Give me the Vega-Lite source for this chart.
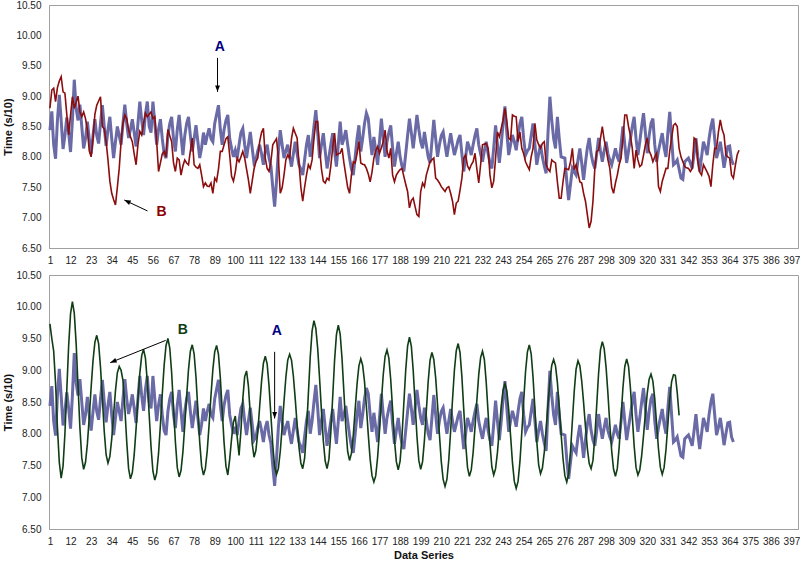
{
"$schema": "https://vega.github.io/schema/vega-lite/v6.json",
"background": "white",
"padding": {"left": 2, "top": -1, "right": 0, "bottom": 0},
"config": {
 "font": "Liberation Sans",
 "view": {"stroke": "#a0a0a0", "strokeWidth": 1},
 "axis": {"grid": false, "domainColor": "#a0a0a0", "ticks": false, "labelOverlap": false, "labelColor": "#222222", "labelFontSize": 10, "titleFontSize": 11, "titleFontWeight": "bold", "titleColor": "#111111"},
 "concat": {"spacing": 3}
},
"datasets": {
"A": [
{"x":1,"y":8.44},{"x":2,"y":8.75},{"x":3,"y":8.20},{"x":4,"y":7.97},{"x":5,"y":8.60},{"x":6,"y":9.02},{"x":7,"y":8.60},{"x":8,"y":8.13},{"x":9,"y":8.35},{"x":10,"y":8.65},
{"x":11,"y":8.40},{"x":12,"y":8.08},{"x":13,"y":8.60},{"x":14,"y":9.27},{"x":15,"y":8.80},{"x":16,"y":8.60},{"x":17,"y":8.86},{"x":18,"y":8.50},{"x":19,"y":8.14},{"x":20,"y":8.30},
{"x":21,"y":8.58},{"x":22,"y":8.30},{"x":23,"y":8.05},{"x":24,"y":8.35},{"x":25,"y":8.62},{"x":26,"y":8.35},{"x":27,"y":8.22},{"x":28,"y":8.55},{"x":29,"y":8.85},{"x":30,"y":8.50},
{"x":31,"y":8.18},{"x":32,"y":8.45},{"x":33,"y":8.66},{"x":34,"y":8.30},{"x":35,"y":7.98},{"x":36,"y":8.25},{"x":37,"y":8.50},{"x":38,"y":8.35},{"x":39,"y":8.20},{"x":40,"y":8.55},
{"x":41,"y":8.86},{"x":42,"y":8.55},{"x":43,"y":8.31},{"x":44,"y":8.45},{"x":45,"y":8.62},{"x":46,"y":8.40},{"x":47,"y":8.17},{"x":48,"y":8.55},{"x":49,"y":8.91},{"x":50,"y":8.60},
{"x":51,"y":8.36},{"x":52,"y":8.70},{"x":53,"y":8.91},{"x":54,"y":8.50},{"x":55,"y":8.40},{"x":56,"y":8.91},{"x":57,"y":8.55},{"x":58,"y":8.20},{"x":59,"y":8.45},{"x":60,"y":8.62},
{"x":61,"y":8.30},{"x":62,"y":8.05},{"x":63,"y":7.98},{"x":64,"y":8.35},{"x":65,"y":8.55},{"x":66,"y":8.66},{"x":67,"y":8.30},{"x":68,"y":8.09},{"x":69,"y":8.45},{"x":70,"y":8.69},
{"x":71,"y":8.35},{"x":72,"y":8.03},{"x":73,"y":8.35},{"x":74,"y":8.55},{"x":75,"y":8.66},{"x":76,"y":8.35},{"x":77,"y":8.09},{"x":78,"y":8.30},{"x":79,"y":8.52},{"x":80,"y":8.25},
{"x":81,"y":7.98},{"x":82,"y":8.15},{"x":83,"y":8.40},{"x":84,"y":8.20},{"x":85,"y":8.35},{"x":86,"y":8.47},{"x":87,"y":8.30},{"x":88,"y":8.25},{"x":89,"y":8.55},{"x":90,"y":8.70},
{"x":91,"y":8.85},{"x":92,"y":8.45},{"x":93,"y":8.20},{"x":94,"y":8.45},{"x":95,"y":8.60},{"x":96,"y":8.69},{"x":97,"y":8.30},{"x":98,"y":8.14},{"x":99,"y":8.00},{"x":100,"y":8.11},
{"x":101,"y":7.98},{"x":102,"y":8.20},{"x":103,"y":8.40},{"x":104,"y":8.47},{"x":105,"y":8.20},{"x":106,"y":7.98},{"x":107,"y":8.20},{"x":108,"y":8.41},{"x":109,"y":8.15},{"x":110,"y":7.90},
{"x":111,"y":7.95},{"x":112,"y":8.10},{"x":113,"y":8.20},{"x":114,"y":8.05},{"x":115,"y":7.87},{"x":116,"y":8.09},{"x":117,"y":8.20},{"x":118,"y":7.98},{"x":119,"y":7.85},{"x":120,"y":7.50},
{"x":121,"y":7.18},{"x":122,"y":7.60},{"x":123,"y":8.10},{"x":124,"y":8.44},{"x":125,"y":8.20},{"x":126,"y":7.98},{"x":127,"y":8.10},{"x":128,"y":8.20},{"x":129,"y":8.00},{"x":130,"y":7.84},
{"x":131,"y":8.05},{"x":132,"y":8.25},{"x":133,"y":8.05},{"x":134,"y":7.87},{"x":135,"y":7.80},{"x":136,"y":7.70},{"x":137,"y":7.95},{"x":138,"y":8.20},{"x":139,"y":8.36},{"x":140,"y":8.00},
{"x":141,"y":8.20},{"x":142,"y":8.50},{"x":143,"y":8.77},{"x":144,"y":8.40},{"x":145,"y":7.98},{"x":146,"y":8.20},{"x":147,"y":8.39},{"x":148,"y":8.10},{"x":149,"y":7.81},{"x":150,"y":8.00},
{"x":151,"y":8.20},{"x":152,"y":8.39},{"x":153,"y":8.10},{"x":154,"y":7.84},{"x":155,"y":8.20},{"x":156,"y":8.58},{"x":157,"y":8.20},{"x":158,"y":8.30},{"x":159,"y":8.44},{"x":160,"y":8.20},
{"x":161,"y":7.98},{"x":162,"y":7.80},{"x":163,"y":7.70},{"x":164,"y":8.00},{"x":165,"y":8.30},{"x":166,"y":8.52},{"x":167,"y":8.09},{"x":168,"y":8.30},{"x":169,"y":8.55},{"x":170,"y":8.72},
{"x":171,"y":8.63},{"x":172,"y":8.30},{"x":173,"y":8.03},{"x":174,"y":8.33},{"x":175,"y":8.10},{"x":176,"y":7.87},{"x":177,"y":8.25},{"x":178,"y":8.63},{"x":179,"y":8.30},{"x":180,"y":8.00},
{"x":181,"y":8.25},{"x":182,"y":8.40},{"x":183,"y":8.52},{"x":184,"y":8.15},{"x":185,"y":7.84},{"x":186,"y":8.05},{"x":187,"y":8.25},{"x":188,"y":8.00},{"x":189,"y":7.85},{"x":190,"y":7.76},
{"x":191,"y":8.05},{"x":192,"y":8.35},{"x":193,"y":8.63},{"x":194,"y":8.40},{"x":195,"y":8.14},{"x":196,"y":8.40},{"x":197,"y":8.69},{"x":198,"y":8.45},{"x":199,"y":8.25},{"x":200,"y":8.14},
{"x":201,"y":8.41},{"x":202,"y":8.20},{"x":203,"y":8.00},{"x":204,"y":7.90},{"x":205,"y":8.25},{"x":206,"y":8.61},{"x":207,"y":8.30},{"x":208,"y":8.00},{"x":209,"y":8.20},{"x":210,"y":8.35},
{"x":211,"y":8.41},{"x":212,"y":8.20},{"x":213,"y":8.00},{"x":214,"y":8.20},{"x":215,"y":8.39},{"x":216,"y":8.20},{"x":217,"y":8.03},{"x":218,"y":8.15},{"x":219,"y":8.28},{"x":220,"y":8.36},
{"x":221,"y":8.05},{"x":222,"y":7.76},{"x":223,"y":8.00},{"x":224,"y":8.25},{"x":225,"y":8.15},{"x":226,"y":8.03},{"x":227,"y":8.20},{"x":228,"y":8.35},{"x":229,"y":8.47},{"x":230,"y":8.20},
{"x":231,"y":8.05},{"x":232,"y":7.92},{"x":233,"y":8.10},{"x":234,"y":8.25},{"x":235,"y":8.05},{"x":236,"y":7.90},{"x":237,"y":7.81},{"x":238,"y":8.15},{"x":239,"y":8.52},{"x":240,"y":8.20},
{"x":241,"y":7.90},{"x":242,"y":8.20},{"x":243,"y":8.55},{"x":244,"y":8.83},{"x":245,"y":8.40},{"x":246,"y":8.03},{"x":247,"y":8.20},{"x":248,"y":8.36},{"x":249,"y":8.25},{"x":250,"y":8.11},
{"x":251,"y":8.35},{"x":252,"y":8.55},{"x":253,"y":8.66},{"x":254,"y":8.30},{"x":255,"y":8.03},{"x":256,"y":8.10},{"x":257,"y":8.14},{"x":258,"y":8.35},{"x":259,"y":8.55},{"x":260,"y":8.20},
{"x":261,"y":7.87},{"x":262,"y":8.05},{"x":263,"y":8.20},{"x":264,"y":8.00},{"x":265,"y":7.85},{"x":266,"y":7.73},{"x":267,"y":8.40},{"x":268,"y":8.99},{"x":269,"y":8.60},{"x":270,"y":8.30},
{"x":271,"y":8.14},{"x":272,"y":8.66},{"x":273,"y":8.30},{"x":274,"y":8.00},{"x":275,"y":7.99},{"x":276,"y":7.98},{"x":277,"y":7.60},{"x":278,"y":7.29},{"x":279,"y":7.55},{"x":280,"y":7.81},
{"x":281,"y":7.75},{"x":282,"y":7.70},{"x":283,"y":7.95},{"x":284,"y":8.14},{"x":285,"y":7.90},{"x":286,"y":7.62},{"x":287,"y":7.90},{"x":288,"y":8.15},{"x":289,"y":8.31},{"x":290,"y":8.05},
{"x":291,"y":7.90},{"x":292,"y":7.81},{"x":293,"y":8.05},{"x":294,"y":8.31},{"x":295,"y":8.10},{"x":296,"y":7.92},{"x":297,"y":8.10},{"x":298,"y":8.25},{"x":299,"y":8.05},{"x":300,"y":7.95},
{"x":301,"y":7.87},{"x":302,"y":8.00},{"x":303,"y":8.14},{"x":304,"y":8.00},{"x":305,"y":7.92},{"x":306,"y":8.20},{"x":307,"y":8.50},{"x":308,"y":8.20},{"x":309,"y":7.90},{"x":310,"y":8.10},
{"x":311,"y":8.30},{"x":312,"y":8.50},{"x":313,"y":8.66},{"x":314,"y":8.30},{"x":315,"y":8.03},{"x":316,"y":8.25},{"x":317,"y":8.50},{"x":318,"y":8.72},{"x":319,"y":8.40},{"x":320,"y":8.06},
{"x":321,"y":8.35},{"x":322,"y":8.55},{"x":323,"y":8.63},{"x":324,"y":8.20},{"x":325,"y":7.92},{"x":326,"y":8.10},{"x":327,"y":8.25},{"x":328,"y":8.39},{"x":329,"y":8.15},{"x":330,"y":8.00},
{"x":331,"y":8.40},{"x":332,"y":8.74},{"x":333,"y":8.30},{"x":334,"y":7.87},{"x":335,"y":7.90},{"x":336,"y":7.95},{"x":337,"y":7.80},{"x":338,"y":7.65},{"x":339,"y":7.63},{"x":340,"y":7.92},
{"x":341,"y":7.95},{"x":342,"y":7.98},{"x":343,"y":7.90},{"x":344,"y":7.81},{"x":345,"y":8.05},{"x":346,"y":8.31},{"x":347,"y":8.00},{"x":348,"y":7.76},{"x":349,"y":8.00},{"x":350,"y":8.25},
{"x":351,"y":8.15},{"x":352,"y":8.03},{"x":353,"y":8.30},{"x":354,"y":8.50},{"x":355,"y":8.63},{"x":356,"y":8.30},{"x":357,"y":7.98},{"x":358,"y":8.10},{"x":359,"y":8.25},{"x":360,"y":8.05},
{"x":361,"y":7.82},{"x":362,"y":8.00},{"x":363,"y":8.17},{"x":364,"y":8.18},{"x":365,"y":7.95},{"x":366,"y":7.87}
],
"B": [
{"x":1,"y":8.80},{"x":2,"y":9.10},{"x":3,"y":9.13},{"x":4,"y":8.91},{"x":5,"y":9.14},{"x":6,"y":9.25},{"x":7,"y":9.32},{"x":8,"y":9.07},{"x":9,"y":9.05},{"x":10,"y":8.70},
{"x":11,"y":8.36},{"x":12,"y":8.69},{"x":13,"y":8.99},{"x":14,"y":8.80},{"x":15,"y":8.90},{"x":16,"y":9.00},{"x":17,"y":8.74},{"x":18,"y":8.66},{"x":19,"y":8.74},{"x":20,"y":8.63},
{"x":21,"y":8.45},{"x":22,"y":8.10},{"x":23,"y":8.00},{"x":24,"y":8.30},{"x":25,"y":8.70},{"x":26,"y":8.85},{"x":27,"y":8.92},{"x":28,"y":8.99},{"x":29,"y":8.50},{"x":30,"y":8.46},
{"x":31,"y":8.25},{"x":32,"y":7.95},{"x":33,"y":7.60},{"x":34,"y":7.40},{"x":35,"y":7.30},{"x":36,"y":7.21},{"x":37,"y":7.50},{"x":38,"y":7.81},{"x":39,"y":8.25},{"x":40,"y":8.55},
{"x":41,"y":8.69},{"x":42,"y":8.63},{"x":43,"y":8.45},{"x":44,"y":8.33},{"x":45,"y":8.25},{"x":46,"y":8.05},{"x":47,"y":7.87},{"x":48,"y":8.20},{"x":49,"y":8.42},{"x":50,"y":8.36},
{"x":51,"y":8.55},{"x":52,"y":8.72},{"x":53,"y":8.66},{"x":54,"y":8.70},{"x":55,"y":8.74},{"x":56,"y":8.63},{"x":57,"y":8.66},{"x":58,"y":8.25},{"x":59,"y":7.76},{"x":60,"y":7.90},
{"x":61,"y":8.05},{"x":62,"y":8.09},{"x":63,"y":8.00},{"x":64,"y":8.45},{"x":65,"y":8.35},{"x":66,"y":8.25},{"x":67,"y":7.90},{"x":68,"y":7.76},{"x":69,"y":7.98},{"x":70,"y":7.95},
{"x":71,"y":7.70},{"x":72,"y":7.85},{"x":73,"y":7.95},{"x":74,"y":7.90},{"x":75,"y":7.87},{"x":76,"y":8.10},{"x":77,"y":8.31},{"x":78,"y":7.87},{"x":79,"y":7.83},{"x":80,"y":7.81},
{"x":81,"y":7.87},{"x":82,"y":7.70},{"x":83,"y":7.51},{"x":84,"y":7.57},{"x":85,"y":7.52},{"x":86,"y":7.51},{"x":87,"y":7.57},{"x":88,"y":7.40},{"x":89,"y":7.65},{"x":90,"y":7.60},
{"x":91,"y":7.80},{"x":92,"y":8.09},{"x":93,"y":8.09},{"x":94,"y":8.20},{"x":95,"y":8.30},{"x":96,"y":8.33},{"x":97,"y":8.03},{"x":98,"y":7.68},{"x":99,"y":7.60},{"x":100,"y":7.75},
{"x":101,"y":7.98},{"x":102,"y":7.92},{"x":103,"y":8.00},{"x":104,"y":8.09},{"x":105,"y":7.98},{"x":106,"y":7.80},{"x":107,"y":7.62},{"x":108,"y":7.40},{"x":109,"y":7.60},{"x":110,"y":7.80},
{"x":111,"y":7.92},{"x":112,"y":7.98},{"x":113,"y":8.25},{"x":114,"y":8.40},{"x":115,"y":8.47},{"x":116,"y":7.98},{"x":117,"y":7.81},{"x":118,"y":7.76},{"x":119,"y":7.92},{"x":120,"y":8.20},
{"x":121,"y":8.25},{"x":122,"y":8.30},{"x":123,"y":7.98},{"x":124,"y":7.40},{"x":125,"y":7.49},{"x":126,"y":7.70},{"x":127,"y":7.95},{"x":128,"y":8.03},{"x":129,"y":7.98},{"x":130,"y":8.30},
{"x":131,"y":8.47},{"x":132,"y":8.39},{"x":133,"y":8.31},{"x":134,"y":7.90},{"x":135,"y":7.50},{"x":136,"y":7.27},{"x":137,"y":7.50},{"x":138,"y":7.70},{"x":139,"y":7.87},{"x":140,"y":7.81},
{"x":141,"y":7.95},{"x":142,"y":8.30},{"x":143,"y":8.58},{"x":144,"y":8.58},{"x":145,"y":8.14},{"x":146,"y":7.80},{"x":147,"y":7.60},{"x":148,"y":7.57},{"x":149,"y":7.65},{"x":150,"y":7.62},
{"x":151,"y":7.85},{"x":152,"y":8.15},{"x":153,"y":8.39},{"x":154,"y":8.03},{"x":155,"y":8.05},{"x":156,"y":8.06},{"x":157,"y":8.14},{"x":158,"y":7.90},{"x":159,"y":7.70},{"x":160,"y":7.50},
{"x":161,"y":7.40},{"x":162,"y":7.70},{"x":163,"y":7.92},{"x":164,"y":7.90},{"x":165,"y":8.05},{"x":166,"y":8.25},{"x":167,"y":7.90},{"x":168,"y":7.88},{"x":169,"y":7.87},{"x":170,"y":7.81},
{"x":171,"y":7.72},{"x":172,"y":7.59},{"x":173,"y":7.75},{"x":174,"y":7.98},{"x":175,"y":8.10},{"x":176,"y":8.17},{"x":177,"y":8.06},{"x":178,"y":8.15},{"x":179,"y":8.25},{"x":180,"y":8.44},
{"x":181,"y":8.10},{"x":182,"y":7.98},{"x":183,"y":8.14},{"x":184,"y":7.70},{"x":185,"y":7.59},{"x":186,"y":7.70},{"x":187,"y":7.75},{"x":188,"y":7.79},{"x":189,"y":7.81},{"x":190,"y":7.68},
{"x":191,"y":7.55},{"x":192,"y":7.43},{"x":193,"y":7.16},{"x":194,"y":7.28},{"x":195,"y":7.32},{"x":196,"y":7.18},{"x":197,"y":7.05},{"x":198,"y":7.02},{"x":199,"y":7.43},{"x":200,"y":7.57},
{"x":201,"y":7.51},{"x":202,"y":7.70},{"x":203,"y":7.81},{"x":204,"y":7.92},{"x":205,"y":7.95},{"x":206,"y":7.98},{"x":207,"y":7.65},{"x":208,"y":7.62},{"x":209,"y":7.57},{"x":210,"y":7.51},
{"x":211,"y":7.47},{"x":212,"y":7.43},{"x":213,"y":7.49},{"x":214,"y":7.51},{"x":215,"y":7.40},{"x":216,"y":7.27},{"x":217,"y":7.05},{"x":218,"y":7.24},{"x":219,"y":7.27},{"x":220,"y":7.45},
{"x":221,"y":7.65},{"x":222,"y":7.98},{"x":223,"y":8.03},{"x":224,"y":7.85},{"x":225,"y":7.79},{"x":226,"y":7.87},{"x":227,"y":7.92},{"x":228,"y":8.06},{"x":229,"y":7.80},{"x":230,"y":7.57},
{"x":231,"y":7.87},{"x":232,"y":8.20},{"x":233,"y":8.21},{"x":234,"y":8.22},{"x":235,"y":8.14},{"x":236,"y":7.70},{"x":237,"y":7.49},{"x":238,"y":7.60},{"x":239,"y":7.98},{"x":240,"y":8.41},
{"x":241,"y":8.33},{"x":242,"y":8.47},{"x":243,"y":8.60},{"x":244,"y":8.80},{"x":245,"y":8.58},{"x":246,"y":8.31},{"x":247,"y":8.28},{"x":248,"y":8.69},{"x":249,"y":8.67},{"x":250,"y":8.66},
{"x":251,"y":8.25},{"x":252,"y":8.41},{"x":253,"y":8.14},{"x":254,"y":8.05},{"x":255,"y":7.92},{"x":256,"y":7.85},{"x":257,"y":7.79},{"x":258,"y":8.00},{"x":259,"y":8.14},{"x":260,"y":8.55},
{"x":261,"y":8.28},{"x":262,"y":8.20},{"x":263,"y":8.14},{"x":264,"y":8.22},{"x":265,"y":8.25},{"x":266,"y":7.87},{"x":267,"y":7.80},{"x":268,"y":7.76},{"x":269,"y":7.95},{"x":270,"y":7.92},
{"x":271,"y":7.90},{"x":272,"y":7.59},{"x":273,"y":7.32},{"x":274,"y":7.32},{"x":275,"y":7.59},{"x":276,"y":7.81},{"x":277,"y":7.80},{"x":278,"y":7.79},{"x":279,"y":7.92},{"x":280,"y":8.14},
{"x":281,"y":7.79},{"x":282,"y":7.87},{"x":283,"y":7.73},{"x":284,"y":7.59},{"x":285,"y":7.57},{"x":286,"y":7.40},{"x":287,"y":7.27},{"x":288,"y":7.05},{"x":289,"y":6.83},{"x":290,"y":6.94},
{"x":291,"y":7.27},{"x":292,"y":7.81},{"x":293,"y":8.09},{"x":294,"y":8.11},{"x":295,"y":8.30},{"x":296,"y":8.50},{"x":297,"y":8.28},{"x":298,"y":8.14},{"x":299,"y":7.95},{"x":300,"y":7.81},
{"x":301,"y":7.50},{"x":302,"y":7.40},{"x":303,"y":7.57},{"x":304,"y":7.70},{"x":305,"y":7.87},{"x":306,"y":7.98},{"x":307,"y":8.30},{"x":308,"y":8.69},{"x":309,"y":8.69},{"x":310,"y":8.50},
{"x":311,"y":8.35},{"x":312,"y":8.14},{"x":313,"y":7.81},{"x":314,"y":8.11},{"x":315,"y":7.95},{"x":316,"y":7.84},{"x":317,"y":7.87},{"x":318,"y":8.03},{"x":319,"y":8.20},{"x":320,"y":8.31},
{"x":321,"y":8.10},{"x":322,"y":8.03},{"x":323,"y":7.92},{"x":324,"y":8.00},{"x":325,"y":8.06},{"x":326,"y":7.51},{"x":327,"y":7.43},{"x":328,"y":7.60},{"x":329,"y":7.70},{"x":330,"y":7.81},
{"x":331,"y":7.81},{"x":332,"y":8.10},{"x":333,"y":8.31},{"x":334,"y":8.52},{"x":335,"y":8.55},{"x":336,"y":8.50},{"x":337,"y":8.14},{"x":338,"y":8.00},{"x":339,"y":7.92},{"x":340,"y":7.84},
{"x":341,"y":7.82},{"x":342,"y":7.81},{"x":343,"y":7.76},{"x":344,"y":7.81},{"x":345,"y":8.31},{"x":346,"y":8.28},{"x":347,"y":7.92},{"x":348,"y":7.75},{"x":349,"y":7.70},{"x":350,"y":7.87},
{"x":351,"y":7.81},{"x":352,"y":7.75},{"x":353,"y":7.68},{"x":354,"y":7.51},{"x":355,"y":7.87},{"x":356,"y":8.14},{"x":357,"y":8.14},{"x":358,"y":8.41},{"x":359,"y":8.61},{"x":360,"y":8.45},
{"x":361,"y":8.36},{"x":362,"y":8.03},{"x":363,"y":8.00},{"x":364,"y":7.98},{"x":365,"y":7.70},{"x":366,"y":7.65},{"x":367,"y":7.85},{"x":368,"y":8.03},{"x":369,"y":8.11}
],
"G": [
{"x":1,"y":9.73},{"x":2,"y":9.50},{"x":3,"y":9.30},{"x":4,"y":8.80},{"x":5,"y":8.10},{"x":6,"y":7.55},{"x":7,"y":7.30},{"x":8,"y":7.49},{"x":9,"y":8.00},{"x":10,"y":8.69},
{"x":11,"y":9.39},{"x":12,"y":9.89},{"x":13,"y":10.08},{"x":14,"y":9.90},{"x":15,"y":9.42},{"x":16,"y":8.76},{"x":17,"y":8.10},{"x":18,"y":7.62},{"x":19,"y":7.44},{"x":20,"y":7.55},
{"x":21,"y":7.84},{"x":22,"y":8.26},{"x":23,"y":8.73},{"x":24,"y":9.15},{"x":25,"y":9.44},{"x":26,"y":9.55},{"x":27,"y":9.42},{"x":28,"y":9.05},{"x":29,"y":8.55},{"x":30,"y":8.04},
{"x":31,"y":7.67},{"x":32,"y":7.54},{"x":33,"y":7.64},{"x":34,"y":7.92},{"x":35,"y":8.30},{"x":36,"y":8.68},{"x":37,"y":8.96},{"x":38,"y":9.06},{"x":39,"y":9.00},{"x":40,"y":8.84},
{"x":41,"y":8.41},{"x":42,"y":7.88},{"x":43,"y":7.45},{"x":44,"y":7.29},{"x":45,"y":7.39},{"x":46,"y":7.67},{"x":47,"y":8.08},{"x":48,"y":8.54},{"x":49,"y":8.95},{"x":50,"y":9.23},
{"x":51,"y":9.33},{"x":52,"y":9.19},{"x":53,"y":8.82},{"x":54,"y":8.30},{"x":55,"y":7.79},{"x":56,"y":7.41},{"x":57,"y":7.27},{"x":58,"y":7.38},{"x":59,"y":7.69},{"x":60,"y":8.14},
{"x":61,"y":8.63},{"x":62,"y":9.08},{"x":63,"y":9.39},{"x":64,"y":9.50},{"x":65,"y":9.35},{"x":66,"y":8.96},{"x":67,"y":8.41},{"x":68,"y":7.87},{"x":69,"y":7.47},{"x":70,"y":7.32},
{"x":71,"y":7.42},{"x":72,"y":7.71},{"x":73,"y":8.13},{"x":74,"y":8.59},{"x":75,"y":9.01},{"x":76,"y":9.30},{"x":77,"y":9.40},{"x":78,"y":9.26},{"x":79,"y":8.89},{"x":80,"y":8.38},
{"x":81,"y":7.86},{"x":82,"y":7.49},{"x":83,"y":7.35},{"x":84,"y":7.45},{"x":85,"y":7.73},{"x":86,"y":8.14},{"x":87,"y":8.60},{"x":88,"y":9.01},{"x":89,"y":9.29},{"x":90,"y":9.39},
{"x":91,"y":9.25},{"x":92,"y":8.88},{"x":93,"y":8.37},{"x":94,"y":7.86},{"x":95,"y":7.49},{"x":96,"y":7.35},{"x":97,"y":7.60},{"x":98,"y":7.92},{"x":99,"y":8.18},{"x":100,"y":8.28},
{"x":101,"y":7.95},{"x":102,"y":7.66},{"x":103,"y":8.05},{"x":104,"y":8.55},{"x":105,"y":8.90},{"x":106,"y":8.99},{"x":107,"y":8.75},{"x":108,"y":8.30},{"x":109,"y":7.85},{"x":110,"y":7.63},
{"x":111,"y":7.74},{"x":112,"y":8.03},{"x":113,"y":8.43},{"x":114,"y":8.82},{"x":115,"y":9.11},{"x":116,"y":9.22},{"x":117,"y":9.10},{"x":118,"y":8.76},{"x":119,"y":8.29},{"x":120,"y":7.83},
{"x":121,"y":7.48},{"x":122,"y":7.36},{"x":123,"y":7.45},{"x":124,"y":7.72},{"x":125,"y":8.10},{"x":126,"y":8.51},{"x":127,"y":8.89},{"x":128,"y":9.16},{"x":129,"y":9.25},{"x":130,"y":9.16},
{"x":131,"y":8.91},{"x":132,"y":8.55},{"x":133,"y":8.15},{"x":134,"y":7.79},{"x":135,"y":7.54},{"x":136,"y":7.45},{"x":137,"y":7.61},{"x":138,"y":8.03},{"x":139,"y":8.62},{"x":140,"y":9.20},
{"x":141,"y":9.62},{"x":142,"y":9.78},{"x":143,"y":9.66},{"x":144,"y":9.34},{"x":145,"y":8.87},{"x":146,"y":8.36},{"x":147,"y":7.89},{"x":148,"y":7.57},{"x":149,"y":7.45},{"x":150,"y":7.60},
{"x":151,"y":8.02},{"x":152,"y":8.58},{"x":153,"y":9.15},{"x":154,"y":9.56},{"x":155,"y":9.71},{"x":156,"y":9.57},{"x":157,"y":9.18},{"x":158,"y":8.65},{"x":159,"y":8.11},{"x":160,"y":7.72},
{"x":161,"y":7.58},{"x":162,"y":7.69},{"x":163,"y":7.98},{"x":164,"y":8.38},{"x":165,"y":8.78},{"x":166,"y":9.07},{"x":167,"y":9.18},{"x":168,"y":9.08},{"x":169,"y":8.82},{"x":170,"y":8.43},
{"x":171,"y":7.99},{"x":172,"y":7.60},{"x":173,"y":7.34},{"x":174,"y":7.24},{"x":175,"y":7.34},{"x":176,"y":7.63},{"x":177,"y":8.05},{"x":178,"y":8.51},{"x":179,"y":8.93},{"x":180,"y":9.22},
{"x":181,"y":9.32},{"x":182,"y":9.19},{"x":183,"y":8.85},{"x":184,"y":8.38},{"x":185,"y":7.90},{"x":186,"y":7.56},{"x":187,"y":7.43},{"x":188,"y":7.57},{"x":189,"y":7.95},{"x":190,"y":8.48},
{"x":191,"y":9.00},{"x":192,"y":9.38},{"x":193,"y":9.52},{"x":194,"y":9.38},{"x":195,"y":9.00},{"x":196,"y":8.48},{"x":197,"y":7.96},{"x":198,"y":7.58},{"x":199,"y":7.44},{"x":200,"y":7.56},
{"x":201,"y":7.90},{"x":202,"y":8.36},{"x":203,"y":8.82},{"x":204,"y":9.16},{"x":205,"y":9.28},{"x":206,"y":9.17},{"x":207,"y":8.88},{"x":208,"y":8.46},{"x":209,"y":7.99},{"x":210,"y":7.56},
{"x":211,"y":7.28},{"x":212,"y":7.17},{"x":213,"y":7.28},{"x":214,"y":7.59},{"x":215,"y":8.05},{"x":216,"y":8.54},{"x":217,"y":9.00},{"x":218,"y":9.31},{"x":219,"y":9.42},{"x":220,"y":9.28},
{"x":221,"y":8.90},{"x":222,"y":8.38},{"x":223,"y":7.85},{"x":224,"y":7.47},{"x":225,"y":7.33},{"x":226,"y":7.43},{"x":227,"y":7.70},{"x":228,"y":8.10},{"x":229,"y":8.53},{"x":230,"y":8.93},
{"x":231,"y":9.20},{"x":232,"y":9.30},{"x":233,"y":9.17},{"x":234,"y":8.81},{"x":235,"y":8.33},{"x":236,"y":7.84},{"x":237,"y":7.48},{"x":238,"y":7.35},{"x":239,"y":7.45},{"x":240,"y":7.71},
{"x":241,"y":8.07},{"x":242,"y":8.43},{"x":243,"y":8.69},{"x":244,"y":8.79},{"x":245,"y":8.68},{"x":246,"y":8.38},{"x":247,"y":7.97},{"x":248,"y":7.55},{"x":249,"y":7.25},{"x":250,"y":7.14},
{"x":251,"y":7.25},{"x":252,"y":7.56},{"x":253,"y":8.02},{"x":254,"y":8.52},{"x":255,"y":8.98},{"x":256,"y":9.29},{"x":257,"y":9.40},{"x":258,"y":9.26},{"x":259,"y":8.89},{"x":260,"y":8.39},
{"x":261,"y":7.88},{"x":262,"y":7.51},{"x":263,"y":7.37},{"x":264,"y":7.46},{"x":265,"y":7.71},{"x":266,"y":8.07},{"x":267,"y":8.47},{"x":268,"y":8.83},{"x":269,"y":9.08},{"x":270,"y":9.17},
{"x":271,"y":9.07},{"x":272,"y":8.81},{"x":273,"y":8.42},{"x":274,"y":7.99},{"x":275,"y":7.61},{"x":276,"y":7.34},{"x":277,"y":7.24},{"x":278,"y":7.37},{"x":279,"y":7.72},{"x":280,"y":8.20},
{"x":281,"y":8.67},{"x":282,"y":9.02},{"x":283,"y":9.15},{"x":284,"y":9.07},{"x":285,"y":8.83},{"x":286,"y":8.49},{"x":287,"y":8.11},{"x":288,"y":7.77},{"x":289,"y":7.53},{"x":290,"y":7.45},
{"x":291,"y":7.58},{"x":292,"y":7.95},{"x":293,"y":8.45},{"x":294,"y":8.95},{"x":295,"y":9.32},{"x":296,"y":9.45},{"x":297,"y":9.34},{"x":298,"y":9.05},{"x":299,"y":8.63},{"x":300,"y":8.15},
{"x":301,"y":7.73},{"x":302,"y":7.44},{"x":303,"y":7.33},{"x":304,"y":7.45},{"x":305,"y":7.79},{"x":306,"y":8.26},{"x":307,"y":8.72},{"x":308,"y":9.06},{"x":309,"y":9.18},{"x":310,"y":9.06},
{"x":311,"y":8.72},{"x":312,"y":8.27},{"x":313,"y":7.81},{"x":314,"y":7.47},{"x":315,"y":7.35},{"x":316,"y":7.43},{"x":317,"y":7.65},{"x":318,"y":7.97},{"x":319,"y":8.32},{"x":320,"y":8.64},
{"x":321,"y":8.86},{"x":322,"y":8.94},{"x":323,"y":8.83},{"x":324,"y":8.55},{"x":325,"y":8.15},{"x":326,"y":7.76},{"x":327,"y":7.47},{"x":328,"y":7.36},{"x":329,"y":7.47},{"x":330,"y":7.75},
{"x":331,"y":8.15},{"x":332,"y":8.54},{"x":333,"y":8.82},{"x":334,"y":8.93},{"x":335,"y":8.92},{"x":336,"y":8.65},{"x":337,"y":8.29}
],
"labels": [
{"panel":"top","txt":"A","x":91.7,"y":9.81},
{"panel":"top","txt":"B","x":60.6,"y":7.09},
{"panel":"bot","txt":"B","x":71.9,"y":9.63},
{"panel":"bot","txt":"A","x":122.2,"y":9.62}
],
"arrows": [
{"panel":"top","id":"A","x":90.5,"y":9.63,"x2":90.5,"y2":9.07},
{"panel":"top","id":"B","x":53.1,"y":7.11,"x2":40.7,"y2":7.29},
{"panel":"bot","id":"B","x":62.8,"y":9.47,"x2":33.2,"y2":9.12},
{"panel":"bot","id":"A","x":121.0,"y":9.29,"x2":121.0,"y2":8.24}
]
},
"vconcat": [
{
 "width": 749, "height": 243,
 "layer": [
  {"data": {"name": "A"}, "mark": {"type": "line", "color": "#6a6aa6", "strokeWidth": 3},
   "encoding": {
    "x": {"field": "x", "type": "quantitative", "scale": {"domain": [0.5, 400.5], "nice": false, "zero": false},
      "axis": {"values": [1,12,23,34,45,56,67,78,89,100,111,122,133,144,155,166,177,188,199,210,221,232,243,254,265,276,287,298,309,320,331,342,353,364,375,386,397], "tickCount": 60, "title": null, "labelPadding": 7, "labelFlush": false, "labelOverlap": false}},
    "y": {"field": "y", "type": "quantitative", "scale": {"domain": [6.5, 10.5], "nice": false, "zero": false},
      "axis": {"values": [6.5,7,7.5,8,8.5,9,9.5,10,10.5], "tickCount": 20, "format": ".2f", "title": "Time (s/10)", "labelPadding": 8, "titlePadding": 2, "labelOverlap": false}}
   }},
  {"data": {"name": "B"}, "mark": {"type": "line", "color": "#8b0d0d", "strokeWidth": 1.6},
   "encoding": {"x": {"field": "x", "type": "quantitative"}, "y": {"field": "y", "type": "quantitative"}}},
  {"data": {"name": "arrows"}, "transform": [{"filter": "datum.panel === 'top'"}], "mark": {"type": "rule", "color": "black", "strokeWidth": 1},
   "encoding": {"x": {"field": "x", "type": "quantitative"}, "y": {"field": "y", "type": "quantitative"}, "x2": {"field": "x2"}, "y2": {"field": "y2"}}},
  {"data": {"name": "arrows"}, "transform": [{"filter": "datum.panel === 'top' && datum.id === 'A'"}], "mark": {"type": "point", "shape": "M0,0L-0.6,1.6L0.6,1.6Z", "filled": true, "color": "black", "opacity": 1, "size": 64, "angle": 180},
   "encoding": {"x": {"field": "x2", "type": "quantitative"}, "y": {"field": "y2", "type": "quantitative"}}},
  {"data": {"name": "arrows"}, "transform": [{"filter": "datum.panel === 'top' && datum.id === 'B'"}], "mark": {"type": "point", "shape": "M0,0L-0.6,1.6L0.6,1.6Z", "filled": true, "color": "black", "opacity": 1, "size": 64, "angle": 295},
   "encoding": {"x": {"field": "x2", "type": "quantitative"}, "y": {"field": "y2", "type": "quantitative"}}},
  {"data": {"name": "labels"}, "transform": [{"filter": "datum.panel === 'top' && datum.txt === 'A'"}], "mark": {"type": "text", "color": "#000080", "fontWeight": "bold", "fontSize": 14, "align": "center", "baseline": "middle"},
   "encoding": {"x": {"field": "x", "type": "quantitative"}, "y": {"field": "y", "type": "quantitative"}, "text": {"field": "txt"}}},
  {"data": {"name": "labels"}, "transform": [{"filter": "datum.panel === 'top' && datum.txt === 'B'"}], "mark": {"type": "text", "color": "#8b0000", "fontWeight": "bold", "fontSize": 14, "align": "center", "baseline": "middle"},
   "encoding": {"x": {"field": "x", "type": "quantitative"}, "y": {"field": "y", "type": "quantitative"}, "text": {"field": "txt"}}}
 ]
},
{
 "width": 749, "height": 254,
 "layer": [
  {"data": {"name": "A"}, "mark": {"type": "line", "color": "#6a6aa6", "strokeWidth": 3},
   "encoding": {
    "x": {"field": "x", "type": "quantitative", "scale": {"domain": [0.5, 400.5], "nice": false, "zero": false},
      "axis": {"values": [1,12,23,34,45,56,67,78,89,100,111,122,133,144,155,166,177,188,199,210,221,232,243,254,265,276,287,298,309,320,331,342,353,364,375,386,397], "tickCount": 60, "title": "Data Series", "labelPadding": 7, "titlePadding": 3, "labelFlush": false, "labelOverlap": false}},
    "y": {"field": "y", "type": "quantitative", "scale": {"domain": [6.5, 10.5], "nice": false, "zero": false},
      "axis": {"values": [6.5,7,7.5,8,8.5,9,9.5,10,10.5], "tickCount": 20, "format": ".2f", "title": "Time (s/10)", "labelPadding": 8, "titlePadding": 2, "labelOverlap": false}}
   }},
  {"data": {"name": "G"}, "mark": {"type": "line", "color": "#0f3d14", "strokeWidth": 1.6},
   "encoding": {"x": {"field": "x", "type": "quantitative"}, "y": {"field": "y", "type": "quantitative"}}},
  {"data": {"name": "arrows"}, "transform": [{"filter": "datum.panel === 'bot'"}], "mark": {"type": "rule", "color": "black", "strokeWidth": 1},
   "encoding": {"x": {"field": "x", "type": "quantitative"}, "y": {"field": "y", "type": "quantitative"}, "x2": {"field": "x2"}, "y2": {"field": "y2"}}},
  {"data": {"name": "arrows"}, "transform": [{"filter": "datum.panel === 'bot' && datum.id === 'A'"}], "mark": {"type": "point", "shape": "M0,0L-0.6,1.6L0.6,1.6Z", "filled": true, "color": "black", "opacity": 1, "size": 64, "angle": 180},
   "encoding": {"x": {"field": "x2", "type": "quantitative"}, "y": {"field": "y2", "type": "quantitative"}}},
  {"data": {"name": "arrows"}, "transform": [{"filter": "datum.panel === 'bot' && datum.id === 'B'"}], "mark": {"type": "point", "shape": "M0,0L-0.6,1.6L0.6,1.6Z", "filled": true, "color": "black", "opacity": 1, "size": 64, "angle": 248},
   "encoding": {"x": {"field": "x2", "type": "quantitative"}, "y": {"field": "y2", "type": "quantitative"}}},
  {"data": {"name": "labels"}, "transform": [{"filter": "datum.panel === 'bot' && datum.txt === 'A'"}], "mark": {"type": "text", "color": "#000080", "fontWeight": "bold", "fontSize": 14, "align": "center", "baseline": "middle"},
   "encoding": {"x": {"field": "x", "type": "quantitative"}, "y": {"field": "y", "type": "quantitative"}, "text": {"field": "txt"}}},
  {"data": {"name": "labels"}, "transform": [{"filter": "datum.panel === 'bot' && datum.txt === 'B'"}], "mark": {"type": "text", "color": "#0f3d14", "fontWeight": "bold", "fontSize": 14, "align": "center", "baseline": "middle"},
   "encoding": {"x": {"field": "x", "type": "quantitative"}, "y": {"field": "y", "type": "quantitative"}, "text": {"field": "txt"}}}
 ]
}
]
}
